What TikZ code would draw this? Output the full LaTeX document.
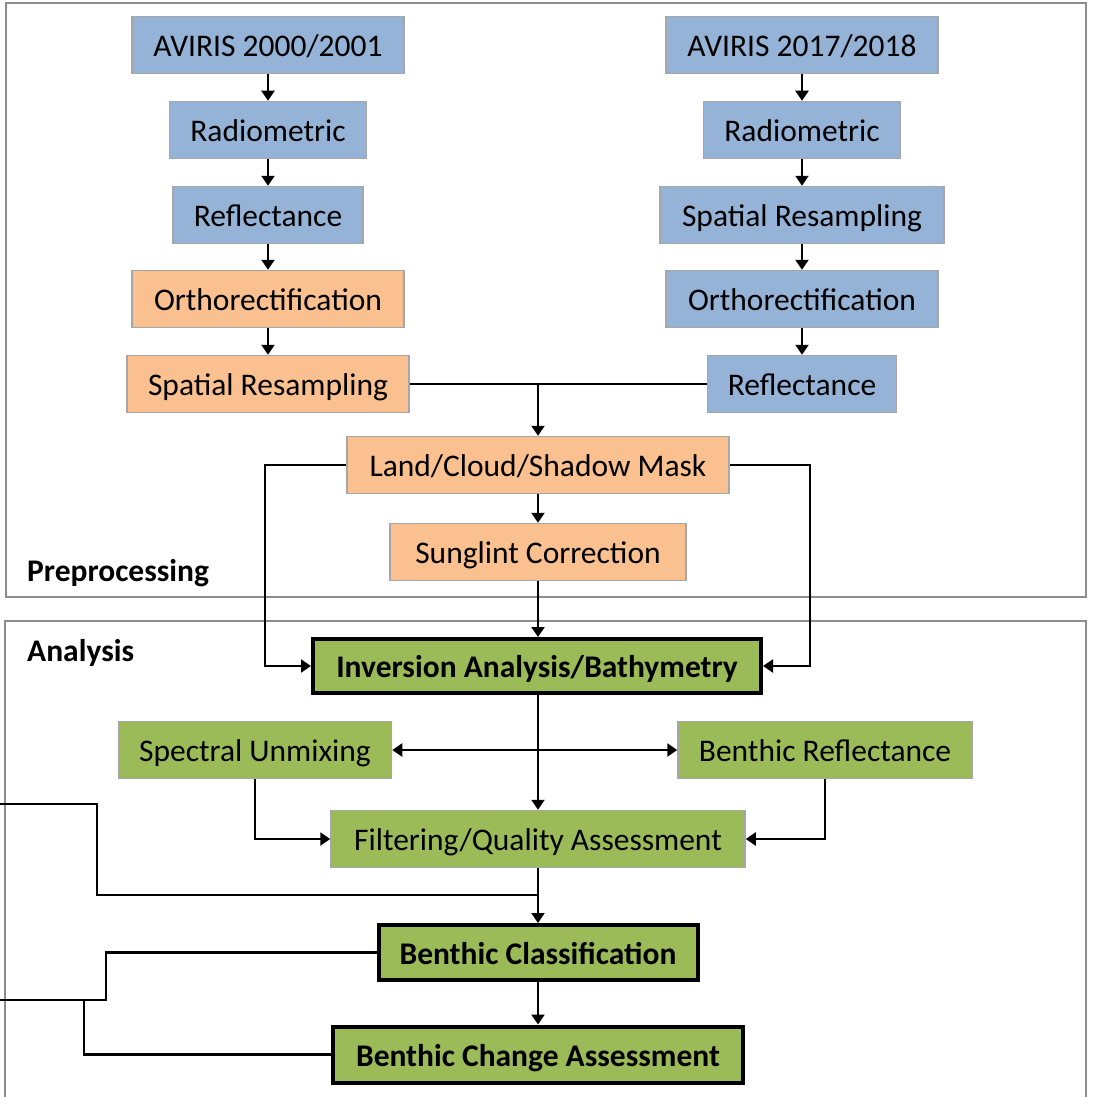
\documentclass[tikz,border=0pt]{standalone}
\usepackage{fontspec}
\setmainfont{Carlito}
\usetikzlibrary{arrows.meta}
\definecolor{cblue}{HTML}{95B3D7}
\definecolor{corange}{HTML}{FAC090}
\definecolor{cgreen}{HTML}{9BBB59}
\definecolor{cborder}{HTML}{A6A6A6}
\definecolor{cframe}{HTML}{8C8C8C}
\tikzset{
  box/.style={draw=cborder, line width=1.5pt, minimum height=57pt, inner sep=0pt,
    text height=23pt, text depth=0pt,
    font=\fontsize{31.5}{36}\selectfont, text=black},
  bbox/.style={box, fill=cblue},
  obox/.style={box, fill=corange},
  gbox/.style={box, fill=cgreen},
  kbox/.style={box, fill=cgreen, draw=black, line width=4pt, minimum height=54pt,
    font=\fontsize{31.5}{36}\selectfont\bfseries},
  conn/.style={line width=2.2pt, draw=black},
  arr/.style={conn, -{Triangle[length=10pt,width=13pt]}},
  frame/.style={draw=cframe, line width=1.5pt},
  lbl/.style={anchor=base west, inner sep=0pt, font=\fontsize{31.5}{36}\selectfont\bfseries}
}
\begin{document}
\begin{tikzpicture}[x=1pt,y=-1pt]
\useasboundingbox (0,0) rectangle (1092,1097);
\clip (0,0) rectangle (1092,1097);
\fill[white] (0,0) rectangle (1092,1097);
% frames
\draw[frame] (6,3) rectangle (1086,597);
\draw[frame] (5,621) rectangle (1086,1120);
\node[lbl] (pre) at (27,581) {Preprocessing};
\node[lbl] (ana) at (27,661) {Analysis};
% left column
\node[bbox, minimum width=272pt] (avl) at (268,45) {AVIRIS 2000/2001};
\node[bbox, minimum width=197pt] (radl) at (268,130) {Radiometric};
\node[bbox, minimum width=190pt] (refl) at (268,215) {Reflectance};
\node[obox, minimum width=272pt] (orthl) at (268,299) {Orthorectification};
\node[obox, minimum width=282pt] (spl) at (268,384) {Spatial Resampling};
% right column
\node[bbox, minimum width=272pt] (avr) at (802,45) {AVIRIS 2017/2018};
\node[bbox, minimum width=197pt] (radr) at (802,130) {Radiometric};
\node[bbox, minimum width=284pt] (spr) at (802,215) {Spatial Resampling};
\node[bbox, minimum width=272pt] (orthr) at (802,299) {Orthorectification};
\node[bbox, minimum width=189pt] (refr) at (802,384) {Reflectance};
% middle
\node[obox, minimum width=382pt] (land) at (538,465) {Land/Cloud/Shadow Mask};
\node[obox, minimum width=296pt] (sun) at (538,552) {Sunglint Correction};
\node[kbox, minimum width=448pt] (inv) at (537,666) {Inversion Analysis/Bathymetry};
\node[gbox, minimum width=273pt] (spec) at (255,750) {Spectral Unmixing};
\node[gbox, minimum width=294pt] (brefl) at (825,750) {Benthic Reflectance};
\node[gbox, minimum width=414pt] (filt) at (538,839) {Filtering/Quality Assessment};
\node[kbox, minimum width=319pt, minimum height=55pt] (bcl) at (538,952.5) {Benthic Classification};
\node[kbox, minimum width=410pt, minimum height=56pt] (bch) at (538,1054.5) {Benthic Change Assessment};
% column arrows
\draw[arr] (avl) -- (radl);
\draw[arr] (radl) -- (refl);
\draw[arr] (refl) -- (orthl);
\draw[arr] (orthl) -- (spl);
\draw[arr] (avr) -- (radr);
\draw[arr] (radr) -- (spr);
\draw[arr] (spr) -- (orthr);
\draw[arr] (orthr) -- (refr);
% merge
\coordinate (j1) at (538,384);
\draw[conn] (spl.east) -- (refr.west);
\draw[arr] (j1) -- (land.north);
\draw[arr] (land) -- (sun);
\draw[arr] (sun) -- (inv.north -| sun);
\draw[arr] (land.west) -- ++(-81,0) |- (inv.west);
\draw[arr] (land.east) -- ++(80,0) |- (inv.east);
% analysis
\coordinate (j2) at (538,750);
\draw[arr] (inv.south -| j2) -- (filt.north -| j2);
\draw[arr] (j2) -- (spec.east);
\draw[arr] (j2) -- (brefl.west);
\draw[arr] (spec.south) |- (filt.west);
\draw[arr] (brefl.south) |- (filt.east);
\draw[arr] (filt.south -| j2) -- (bcl.north -| j2);
\draw[arr] (bcl.south -| j2) -- (bch.north -| j2);
% loose lines on the left
\coordinate (e1) at (0,804);
\coordinate (e2) at (538,895);
\coordinate (e3) at (0,1000);
\coordinate (k1) at (106,952.5);
\coordinate (k2) at (84,1000);
\draw[conn] (e1) -| (97,895) -- (e2);
\draw[conn] (bcl.west) -- (k1) |- (e3);
\draw[conn] (k2) |- (bch.west);
\end{tikzpicture}
\end{document}
